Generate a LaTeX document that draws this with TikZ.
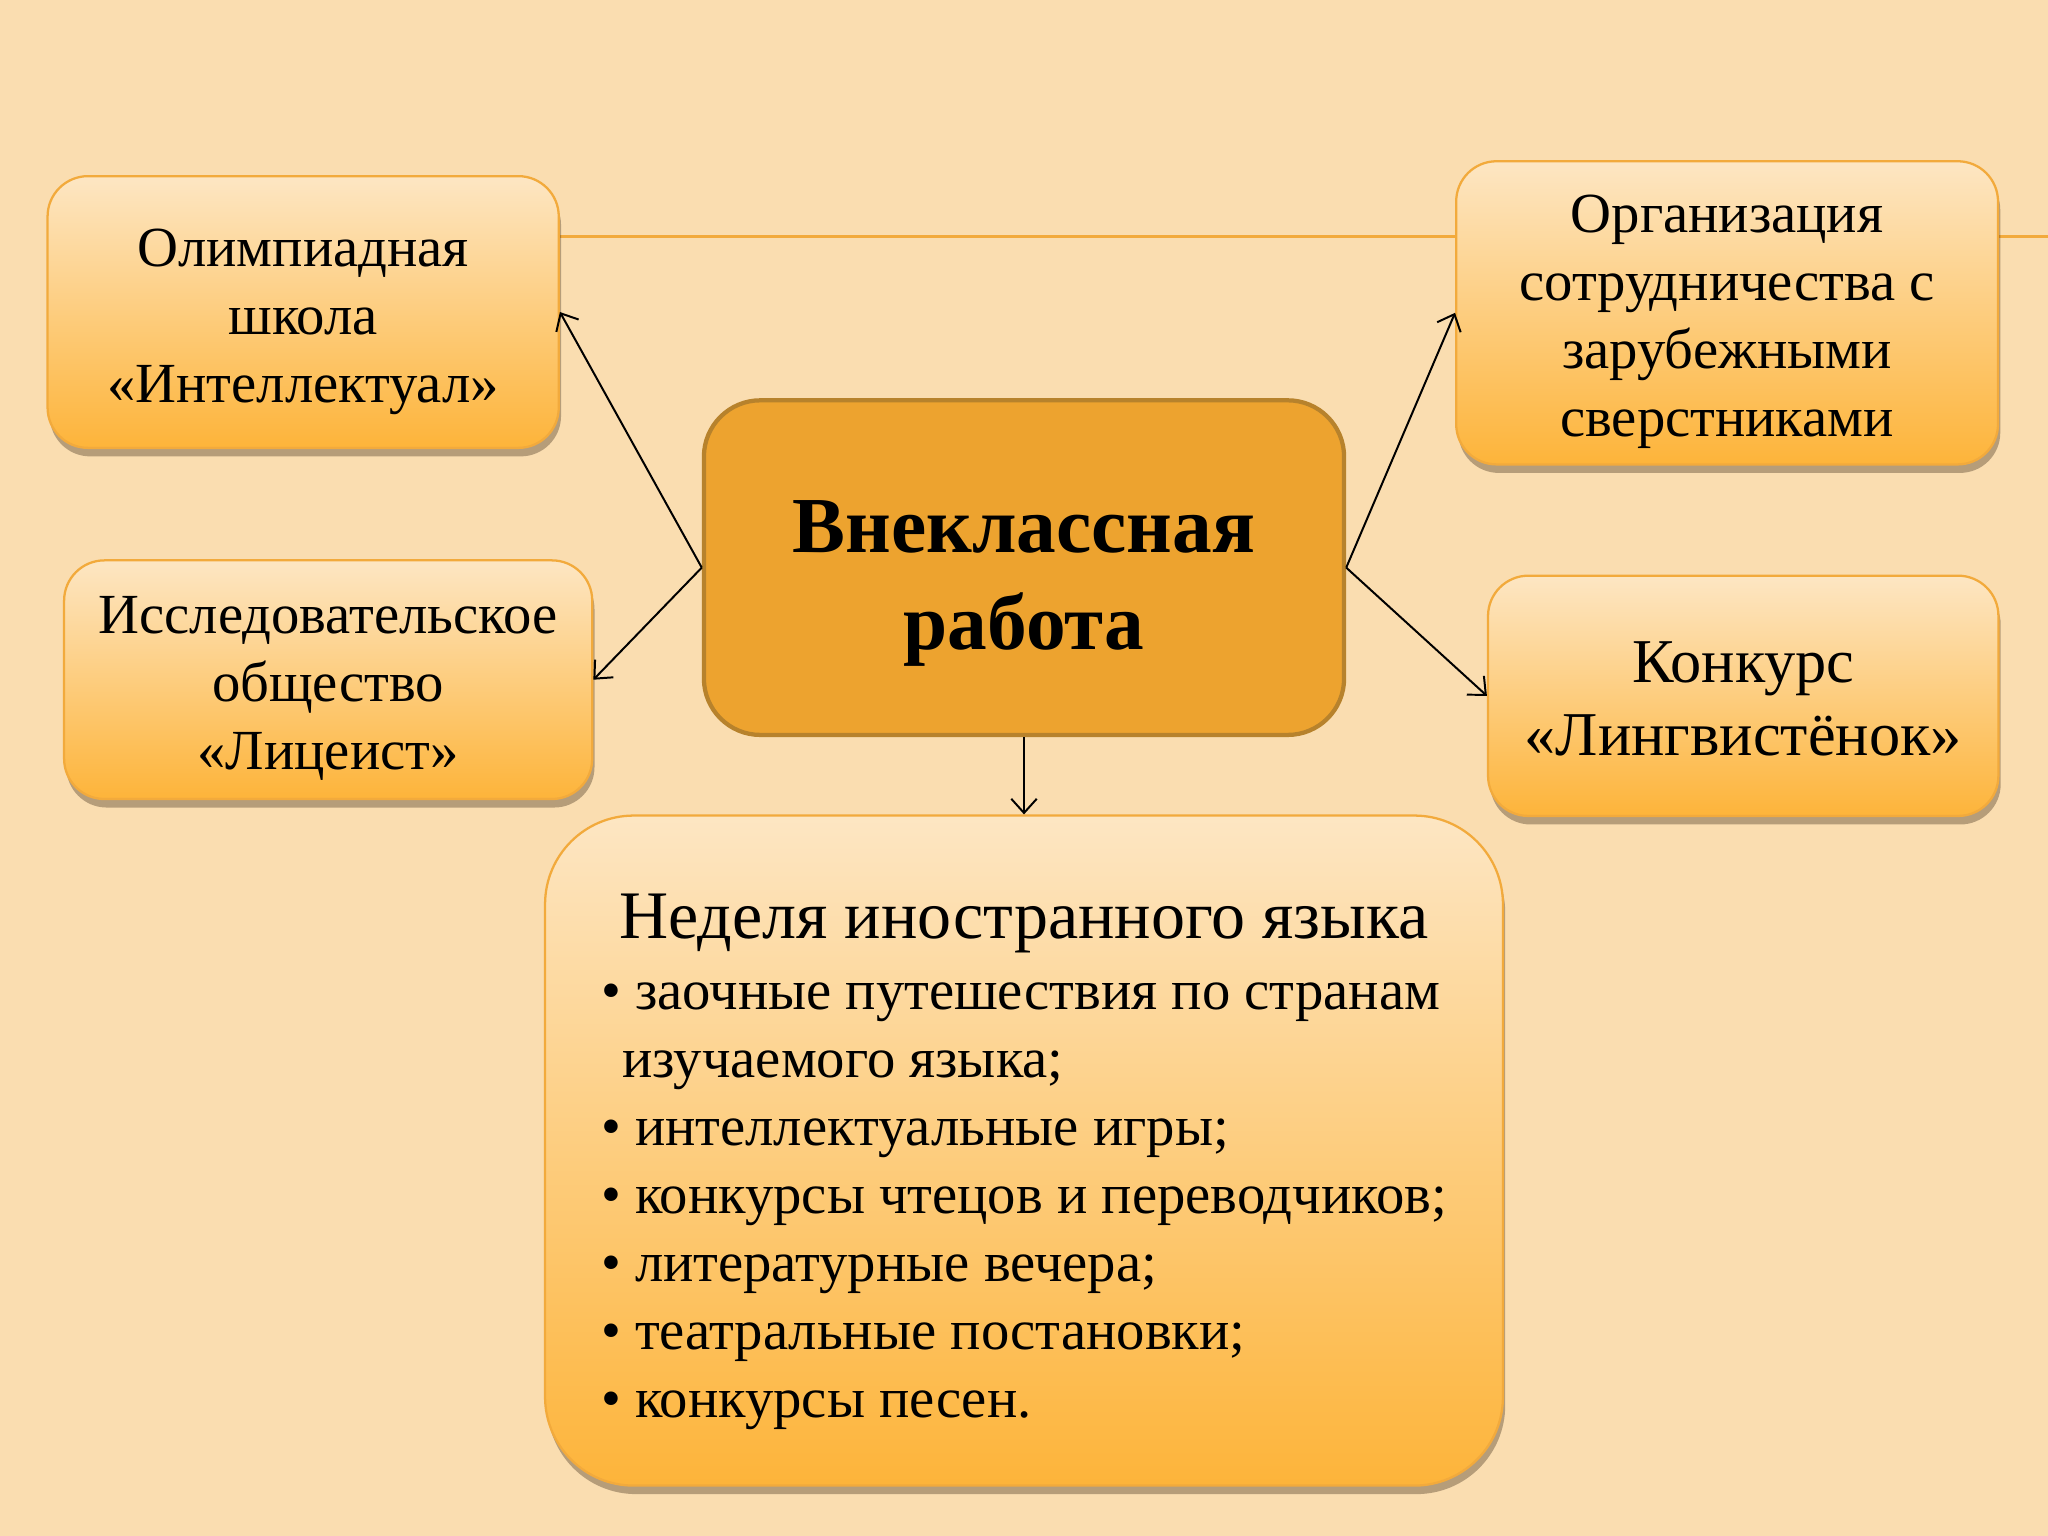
\documentclass[tikz,border=0pt]{standalone}
\usepackage{fontspec}
\setmainfont{Liberation Serif}
\usetikzlibrary{shadows,arrows.meta,backgrounds}

\definecolor{bgpeach}{HTML}{FADDB0}
\definecolor{boxtop}{HTML}{FDE6C3}
\definecolor{boxbot}{HTML}{FDB43A}
\definecolor{boxline}{HTML}{F2AA3C}
\definecolor{mainfill}{HTML}{EDA32F}
\definecolor{mainline}{HTML}{B7822C}

% lines of a box, set a little lower than the middle
\newcommand{\lowlines}[2]{\raisebox{-#1}[\height][\depth]{\begin{tabular}{@{}c@{}}#2\end{tabular}}}

\begin{document}
\begin{tikzpicture}[
    sidebox/.style={rectangle, rounded corners=0.5cm, draw=boxline, line width=0.8pt,
      top color=boxtop, bottom color=boxbot, align=center, inner sep=0pt,
      font=\fontsize{20}{24}\selectfont,
      drop shadow={shadow xshift=0.8pt, shadow yshift=-3pt, opacity=0.35, fill=black!70!brown}},
    mainbox/.style={rectangle, rounded corners=0.7cm, draw=mainline, line width=1.5pt,
      fill=mainfill, align=center, inner sep=0pt,
      font=\bfseries\fontsize{28}{34}\selectfont},
    link/.style={-{Straight Barb[length=5pt,width=9pt]}, line width=0.7pt}
  ]
  \useasboundingbox (0,0) rectangle (25.4,19.05);

  % boxes
  \node[mainbox, minimum width=7.94cm, minimum height=4.15cm] (extra) at (12.70,12.01)
    {\lowlines{5pt}{Внеклассная\\работа}};
  \node[sidebox, minimum width=6.34cm, minimum height=3.37cm] (olymp) at (3.76,15.18)
    {\lowlines{3pt}{Олимпиадная\\школа\\«Интеллектуал»}};
  \node[sidebox, minimum width=6.55cm, minimum height=2.96cm] (lyceum) at (4.07,10.62)
    {\lowlines{3pt}{Исследовательское\\общество\\«Лицеист»}};
  \node[sidebox, minimum width=6.72cm, minimum height=3.76cm] (abroad) at (21.42,15.17)
    {\lowlines{3pt}{Организация\\сотрудничества с\\зарубежными\\сверстниками}};
  \node[sidebox, minimum width=6.33cm, minimum height=2.98cm,
        font=\fontsize{22}{26}\selectfont] (contest) at (21.62,10.42)
    {\lowlines{3pt}{Конкурс\\«Лингвистёнок»}};
  \node[sidebox, rounded corners=1.1cm, minimum width=11.88cm, minimum height=8.31cm] (week) at (12.70,4.78)
    {\raisebox{-5pt}[\height][\depth]{\begin{tabular}{@{}l@{}}
      \multicolumn{1}{@{}c@{}}{\fontsize{24}{28}\selectfont Неделя иностранного языка}\\[1pt]
      \textbullet\ заочные путешествия по странам\\
      \hspace*{7.5pt}изучаемого языка;\\
      \textbullet\ интеллектуальные игры;\\
      \textbullet\ конкурсы чтецов и переводчиков;\\
      \textbullet\ литературные вечера;\\
      \textbullet\ театральные постановки;\\
      \textbullet\ конкурсы песен.
    \end{tabular}}};

  % background and top rule
  \begin{scope}[on background layer]
    \fill[bgpeach] (0,0) rectangle (25.4,19.05);
    \coordinate (ruleend) at (25.4,16.12);
    \draw[boxline, line width=1.1pt] (ruleend -| olymp.east) -- (ruleend);
  \end{scope}

  % arrows
  \draw[link] (extra.west) -- (olymp.east);
  \draw[link] (extra.west) -- (lyceum.east);
  \draw[link] (extra.east) -- (abroad.west);
  \draw[link] (extra.east) -- (contest.west);
  \draw[link] (extra.south) -- (week.north);
\end{tikzpicture}
\end{document}
